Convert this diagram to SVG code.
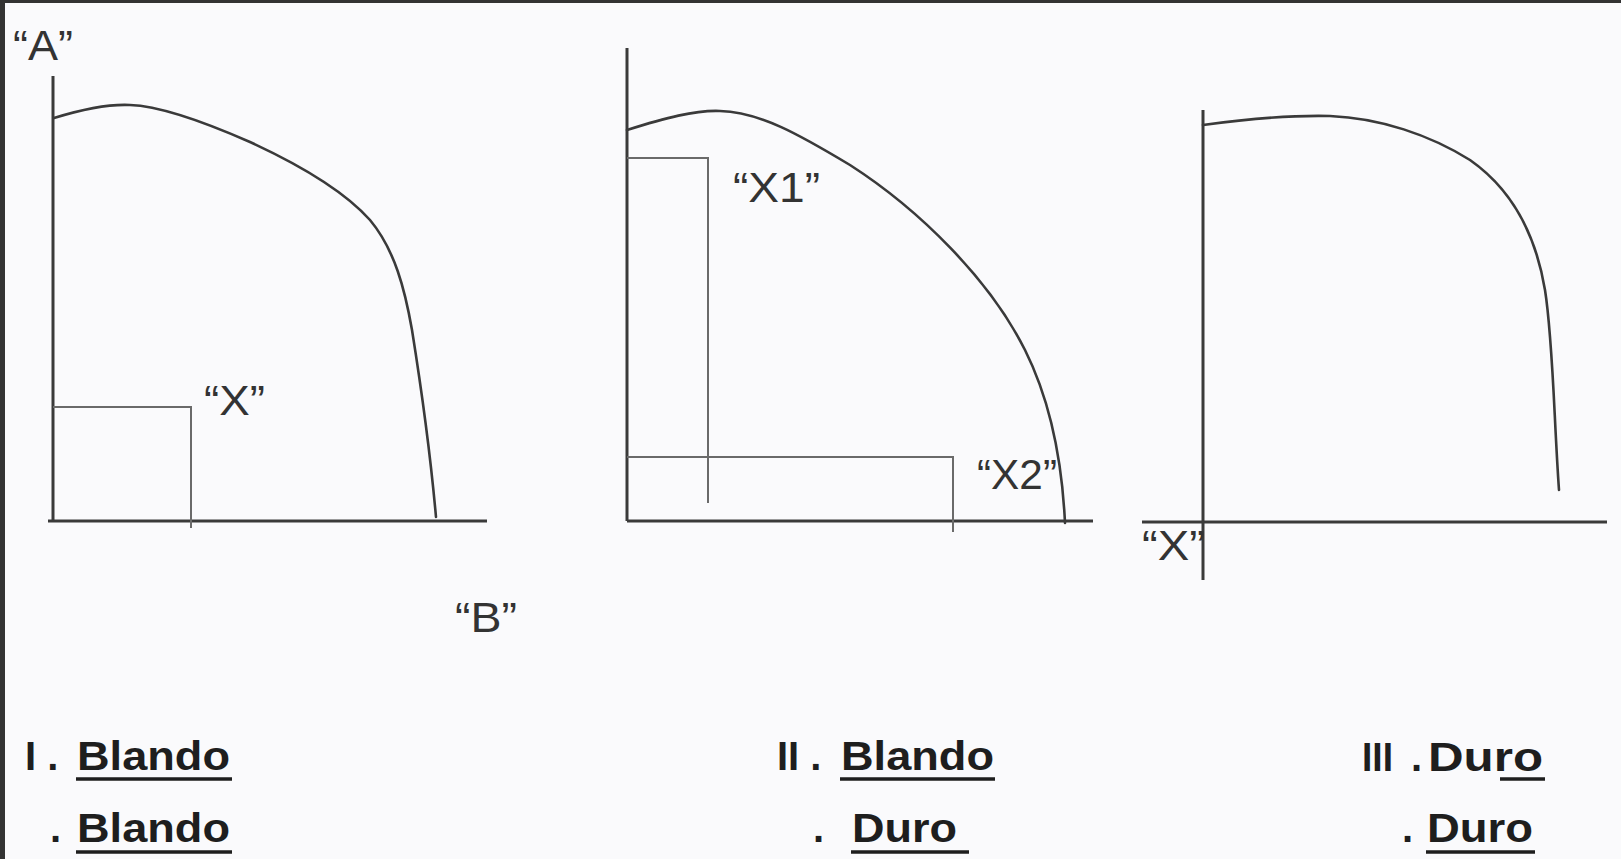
<svg xmlns="http://www.w3.org/2000/svg" width="1621" height="859" viewBox="0 0 1621 859">
<style>
.axis{stroke:#3a3a3a;stroke-width:3;fill:none;stroke-linecap:butt}
.curve{stroke:#3a3a3a;stroke-width:2.6;fill:none;stroke-linecap:round}
.box{stroke:#6a6a6a;stroke-width:2;fill:none}
.q{font-family:"Liberation Sans",Arial,sans-serif;font-size:42px;fill:#333}
.lab{font-family:"Liberation Sans",Arial,sans-serif;font-size:40px;font-weight:bold;fill:#1e1e1e}
.ul{stroke:#1e1e1e;stroke-width:3.5}
</style>
<rect x="0" y="0" width="1621" height="859" fill="#fafafc"/>
<rect x="0" y="0" width="1621" height="3" fill="#333"/>
<rect x="0" y="0" width="5" height="859" fill="#333"/>

<g id="chart1">
<path class="axis" d="M53,76 V522 M48,521 H487"/>
<path class="box" d="M53,407 H191 V528"/>
<path class="curve" d="M54,118 C80,110 110,104 130,105 C160,106 200,120 250,142 C300,165 345,192 370,220 C395,250 405,290 412,330 C420,380 430,450 436,517"/>
<text class="q" x="13" y="60" textLength="60" lengthAdjust="spacingAndGlyphs">“A”</text>
<text class="q" x="204" y="415" textLength="61" lengthAdjust="spacingAndGlyphs">“X”</text>
<text class="q" x="455" y="632" textLength="62" lengthAdjust="spacingAndGlyphs">“B”</text>
</g>

<g id="chart2">
<path class="axis" d="M627,48 V521 M627,521 H1093"/>
<path class="box" d="M627,158 H708 V503"/>
<path class="box" d="M627,457 H953 V532"/>
<path class="curve" d="M627,130 C665,118 695,110 720,111 C760,112 800,135 850,165 C920,210 990,280 1025,350 C1050,400 1062,460 1065,523"/>
<text class="q" x="733" y="202" textLength="87" lengthAdjust="spacingAndGlyphs">“X1”</text>
<text class="q" x="977" y="489" textLength="80" lengthAdjust="spacingAndGlyphs">“X2”</text>
</g>

<g id="chart3">
<path class="axis" d="M1203,110 V580 M1142,522 H1607"/>
<path class="curve" d="M1203,125 C1240,120 1290,115 1330,116 C1380,118 1430,135 1470,160 C1510,188 1535,230 1545,290 C1553,340 1554,420 1559,490"/>
<text class="q" x="1142" y="560" textLength="63" lengthAdjust="spacingAndGlyphs">“X”</text>
</g>

<g id="labels">
<text class="lab" x="25" y="770">I .</text>
<text class="lab" x="77" y="770" textLength="153" lengthAdjust="spacingAndGlyphs">Blando</text>
<line class="ul" x1="76" y1="779" x2="232" y2="779"/>
<text class="lab" x="50" y="842">.</text>
<text class="lab" x="77" y="842" textLength="153" lengthAdjust="spacingAndGlyphs">Blando</text>
<line class="ul" x1="76" y1="852" x2="232" y2="852"/>

<text class="lab" x="777" y="770">II .</text>
<text class="lab" x="841" y="770" textLength="153" lengthAdjust="spacingAndGlyphs">Blando</text>
<line class="ul" x1="840" y1="779" x2="995" y2="779"/>
<text class="lab" x="813" y="842">.</text>
<text class="lab" x="852" y="842" textLength="105" lengthAdjust="spacingAndGlyphs">Duro</text>
<line class="ul" x1="851" y1="852" x2="969" y2="852"/>

<text class="lab" x="1362" y="771" textLength="31" lengthAdjust="spacingAndGlyphs">III</text>
<text class="lab" x="1411" y="771">.</text>
<text class="lab" x="1428" y="771" textLength="115" lengthAdjust="spacingAndGlyphs">Duro</text>
<line class="ul" x1="1500" y1="779" x2="1545" y2="779"/>
<text class="lab" x="1402" y="842">.</text>
<text class="lab" x="1427" y="842" textLength="106" lengthAdjust="spacingAndGlyphs">Duro</text>
<line class="ul" x1="1426" y1="852" x2="1535" y2="852"/>
</g>
</svg>
